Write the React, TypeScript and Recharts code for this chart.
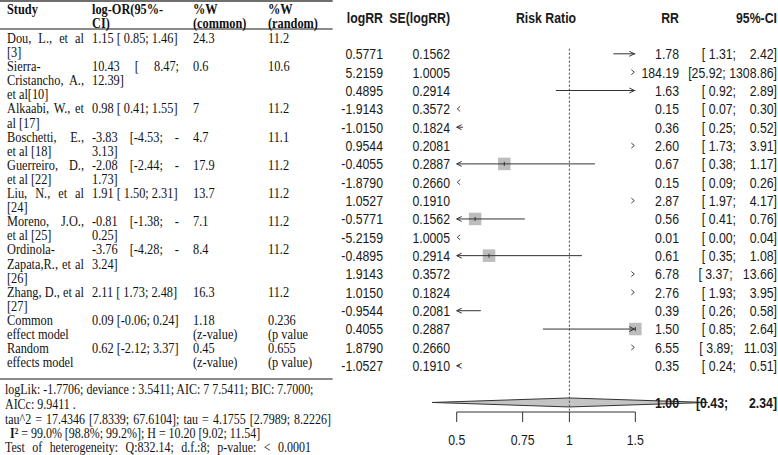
import React from "react";
import { Area, ComposedChart, ReferenceLine, Scatter, XAxis, YAxis } from "recharts";

// ---- forest plot (right) ----
const logRR = [0.5771, 5.2159, 0.4895, -1.9143, -1.015, 0.9544, -0.4055, -1.879, 1.0527, -0.5771, -5.2159, -0.4895, 1.9143, 1.015, -0.9544, 0.4055, 1.879, -1.0527];
const seLogRR = [0.1562, 1.0005, 0.2914, 0.3572, 0.1824, 0.2081, 0.2887, 0.266, 0.191, 0.1562, 1.0005, 0.2914, 0.3572, 0.1824, 0.2081, 0.2887, 0.266, 0.191];
const rr = [1.78, 184.19, 1.63, 0.15, 0.36, 2.6, 0.67, 0.15, 2.87, 0.56, 0.01, 0.61, 6.78, 2.76, 0.39, 1.5, 6.55, 0.35];
const rrLower = [1.31, 25.92, 0.92, 0.07, 0.25, 1.73, 0.38, 0.09, 1.97, 0.41, 0.0, 0.35, 3.37, 1.93, 0.26, 0.85, 3.89, 0.24];
const rrUpper = [2.42, 1308.86, 2.89, 0.3, 0.52, 3.91, 1.17, 0.26, 4.17, 0.76, 0.04, 1.08, 13.66, 3.95, 0.58, 2.64, 11.03, 0.51];
const pooledRR = 1.0;
const pooledLower = 0.43;
const pooledUpper = 2.34;
const rrTicks = [0.5, 0.75, 1, 1.5];

// ---- table (left) ----
const headerCells = [["Study"], ["log-OR(95%-", "CI)"], ["%W", "(common)"], ["%W", "(random)"]];
const studyCells = [
  ["Dou, L., et al", "[3]"],
  ["Sierra-", "Cristancho, A.,", "et al[10]"],
  ["Alkaabi, W., et", "al [17]"],
  ["Boschetti, E.,", "et al [18]"],
  ["Guerreiro, D.,", "et al [22]"],
  ["Liu, N., et al", "[24]"],
  ["Moreno, J.O.,", "et al [25]"],
  ["Ordinola-", "Zapata,R., et al", "[26]"],
  ["Zhang, D., et al", "[27]"],
  ["Common", "effect model"],
  ["Random", "effects model"],
];
const logOrCells = [
  ["1.15 [ 0.85; 1.46]"],
  ["10.43 [ 8.47;", "12.39]"],
  ["0.98 [ 0.41; 1.55]"],
  ["-3.83 [-4.53; -", "3.13]"],
  ["-2.08 [-2.44; -", "1.73]"],
  ["1.91 [ 1.50; 2.31]"],
  ["-0.81 [-1.38; -", "0.25]"],
  ["-3.76 [-4.28; -", "3.24]"],
  ["2.11 [ 1.73; 2.48]"],
  ["0.09 [-0.06; 0.24]"],
  ["0.62 [-2.12; 3.37]"],
];
const weightCommon = [["24.3"], ["0.6"], ["7"], ["4.7"], ["17.9"], ["13.7"], ["7.1"], ["8.4"], ["16.3"], ["1.18", "(z-value)"], ["0.45", "(z-value)"]];
const weightRandom = [["11.2"], ["10.6"], ["11.2"], ["11.1"], ["11.2"], ["11.2"], ["11.2"], ["11.2"], ["11.2"], ["0.236", "(p value"], ["0.655", "(p value)"]];
const statLines = [
  "logLik: -1.7706; deviance : 3.5411; AIC: 7 7.5411; BIC: 7.7000;",
  "AICc: 9.9411 .",
  "tau^2 = 17.4346 [7.8339; 67.6104]; tau = 4.1755 [2.7989; 8.2226]",
  "I² = 99.0% [98.8%; 99.2%]; H = 10.20 [9.02; 11.54]",
  "Test of heterogeneity: Q:832.14; d.f.:8; p-value: < 0.0001",
];

const SANS = '"Liberation Sans", Arial, Helvetica, sans-serif';
const SERIF = '"Liberation Serif", "Times New Roman", serif';
const INK = "#1a1a1a";
const LINE = "#333";
const NX = 0.82; // the plot text is narrow (Arial Narrow look)

const X_DOMAIN = [0.2157, 3.607];
const Y_DOMAIN = [-1.932, 20.52];
const ROW_HEADER = -1;
const ROW_POOLED = 20;
const LIM_LO = rrTicks[0];
const LIM_HI = rrTicks[rrTicks.length - 1];

const rows = logRR.map((_, i) => i + 1);
const diamond = [
  { x: pooledLower, band: [ROW_POOLED, ROW_POOLED] },
  { x: pooledRR, band: [ROW_POOLED - 0.245, ROW_POOLED + 0.245] },
  { x: pooledUpper, band: [ROW_POOLED, ROW_POOLED] },
];
const segments = rows
  .filter((r) => rrUpper[r - 1] > LIM_LO && rrLower[r - 1] < LIM_HI)
  .map((r) => [
    { x: Math.max(rrLower[r - 1], LIM_LO), y: r, arrow: rrLower[r - 1] < LIM_LO ? "left" : "" },
    { x: Math.min(rrUpper[r - 1], LIM_HI), y: r, arrow: rrUpper[r - 1] > LIM_HI ? "right" : "" },
  ]);
const boxes = rows.filter((r) => rr[r - 1] >= LIM_LO && rr[r - 1] <= LIM_HI).map((r) => ({ x: rr[r - 1], y: r }));
const chevrons = rows
  .filter((r) => rrUpper[r - 1] <= LIM_LO || rrLower[r - 1] >= LIM_HI)
  .map((r) => (rrUpper[r - 1] <= LIM_LO ? { x: LIM_LO, y: r, dir: "left" } : { x: LIM_HI, y: r, dir: "right" }));

const fmtCI = (lo: number, hi: number) => `[${lo.toFixed(2).padStart(5)}; ${hi.toFixed(2).padStart(7)}]`;

function NText({ x, y, anchor, bold, dy = "0.36em", children }: any) {
  return (
    <text
      transform={`translate(${x},${y}) scale(${NX},1)`}
      textAnchor={anchor}
      dy={dy}
      fontFamily={SANS}
      fontSize={15}
      fill={INK}
      fontWeight={bold ? "bold" : "normal"}
      xmlSpace="preserve"
      style={{ whiteSpace: "pre" }}
    >
      {children}
    </text>
  );
}

function ArrowTip({ cx, cy, payload }: any) {
  if (payload.arrow === "left")
    return <path d={`M${cx + 5},${cy - 2.5}L${cx},${cy}L${cx + 5},${cy + 2.5}`} stroke={LINE} fill="none" />;
  if (payload.arrow === "right")
    return <path d={`M${cx - 6},${cy - 2.5}L${cx - 1},${cy}L${cx - 6},${cy + 2.5}`} stroke={LINE} fill="none" />;
  return <g />;
}

function Box({ cx, cy }: any) {
  return (
    <g>
      <rect x={cx - 6.25} y={cy - 6.25} width={12.5} height={12.5} fill="#bdbdbd" />
      <line x1={cx} x2={cx} y1={cy - 2} y2={cy + 2} stroke={LINE} />
    </g>
  );
}

function Chevron({ cx, cy, payload }: any) {
  const d =
    payload.dir === "left"
      ? `M${cx + 3.5},${cy - 2.5}L${cx + 0.5},${cy}L${cx + 3.5},${cy + 2.5}`
      : `M${cx - 4},${cy - 2.5}L${cx - 1},${cy}L${cx - 4},${cy + 2.5}`;
  return <path d={d} stroke="#444" fill="none" />;
}

function RowText({ y, payload }: any) {
  const r = payload.value;
  if (r === ROW_HEADER) {
    return (
      <g>
        <NText x={383} y={y} anchor="end" bold>logRR</NText>
        <NText x={450} y={y} anchor="end" bold>SE(logRR)</NText>
        <NText x={546} y={y} anchor="middle" bold>Risk Ratio</NText>
        <NText x={679} y={y} anchor="end" bold>RR</NText>
        <NText x={777} y={y} anchor="end" bold>95%-CI</NText>
      </g>
    );
  }
  if (r === ROW_POOLED) {
    return (
      <g>
        <NText x={679} y={y} anchor="end" bold>{pooledRR.toFixed(2)}</NText>
        <NText x={696} y={y} anchor="start" bold>{`[${pooledLower.toFixed(2)};`}</NText>
        <NText x={777} y={y} anchor="end" bold>{`${pooledUpper.toFixed(2)}]`}</NText>
      </g>
    );
  }
  const i = r - 1;
  return (
    <g>
      <NText x={383} y={y} anchor="end">{logRR[i].toFixed(4)}</NText>
      <NText x={450} y={y} anchor="end">{seLogRR[i].toFixed(4)}</NText>
      <NText x={679} y={y} anchor="end">{rr[i].toFixed(2)}</NText>
      <NText x={777} y={y} anchor="end">{fmtCI(rrLower[i], rrUpper[i])}</NText>
    </g>
  );
}

function AxisTick({ x, y, payload }: any) {
  return (
    <NText x={x} y={y} anchor="middle" dy="0.71em">
      {String(payload.value)}
    </NText>
  );
}

// table layout (visual px, then squeezed horizontally like the source image)
const SX = 0.88;
const COL_X = [7, 92, 193, 268];
const COL_W = [77, 87, 65, 62];
const LINE_H = 14.1;
const FIRST_LINE = 39;
const STAT_Y = [389.5, 404.5, 419.5, 434, 447.5];
const STAT_W = [0, 0, 326, 0, 306];

function Cell({ lines, col, start, bold }: { lines: string[]; col: number; start: number; bold?: boolean }) {
  return (
    <>
      {lines.map((t, k) => {
        const justify = k < lines.length - 1;
        return (
          <div
            key={k}
            style={{
              position: "absolute",
              left: COL_X[col] / SX,
              top: start + k * LINE_H - LINE_H / 2,
              width: COL_W[col] / SX,
              height: LINE_H,
              lineHeight: `${LINE_H}px`,
              textAlign: justify ? "justify" : "left",
              textAlignLast: justify ? "justify" : "auto",
              whiteSpace: "nowrap",
              fontWeight: bold ? "bold" : "normal",
            }}
          >
            {t}
          </div>
        );
      })}
    </>
  );
}

function LeftTable() {
  let line = 0;
  const body = studyCells.map((s, r) => {
    const cells = [s, logOrCells[r], weightCommon[r], weightRandom[r]];
    const start = FIRST_LINE + line * LINE_H;
    line += Math.max(...cells.map((c) => c.length));
    return (
      <React.Fragment key={r}>
        {cells.map((c, col) => (
          <Cell key={col} lines={c} col={col} start={start} />
        ))}
      </React.Fragment>
    );
  });
  return (
    <div
      style={{
        position: "absolute",
        left: 0,
        top: 0,
        width: 333 / SX,
        height: 455,
        transform: `scaleX(${SX})`,
        transformOrigin: "0 0",
        fontFamily: SERIF,
        fontSize: 14,
        color: "#111",
      }}
    >
      <div style={{ position: "absolute", left: 0, top: 0, width: "100%", height: 2, background: "#6f6f6f" }} />
      <div style={{ position: "absolute", left: 0, top: 28, width: "100%", height: 1.5, background: "#8a8a8a" }} />
      <div style={{ position: "absolute", left: 0, top: 378, width: "100%", height: 2, background: "#8a8a8a" }} />
      {headerCells.map((c, col) => (
        <Cell key={col} lines={c} col={col} start={10} bold />
      ))}
      {body}
      {statLines.map((t, k) => {
        const justify = STAT_W[k] > 0;
        return (
          <div
            key={k}
            style={{
              position: "absolute",
              left: (k === 3 ? 10 : 5) / SX,
              top: STAT_Y[k] - 6,
              width: justify ? STAT_W[k] / SX : undefined,
              lineHeight: "12px",
              height: 12,
              fontSize: 13.6,
              whiteSpace: "nowrap",
              textAlign: justify ? "justify" : "left",
              textAlignLast: justify ? "justify" : "auto",
            }}
          >
            {k === 3 ? (
              <>
                <b>I²</b>
                {t.slice(2)}
              </>
            ) : (
              t
            )}
          </div>
        );
      })}
    </div>
  );
}

export default function App() {
  return (
    <div style={{ position: "absolute", left: 0, top: 0, width: 778, height: 455, background: "#fff", overflow: "hidden" }}>
      <div style={{ position: "absolute", left: 0, top: 0 }}>
        <ComposedChart width={778} height={455} data={diamond} margin={{ top: 0, right: 0, left: 319, bottom: 0 }}>
          <XAxis
            type="number"
            dataKey="x"
            scale="log"
            domain={X_DOMAIN}
            allowDataOverflow
            ticks={rrTicks}
            interval={0}
            axisLine={false}
            tickLine={{ stroke: LINE }}
            tickSize={10}
            tickMargin={12}
            height={43}
            tick={(p: any) => <AxisTick {...p} />}
          />
          <YAxis
            type="number"
            dataKey="y"
            domain={Y_DOMAIN}
            allowDataOverflow
            reversed
            width={1}
            axisLine={false}
            tickLine={false}
            ticks={[ROW_HEADER, ...rows, ROW_POOLED]}
            interval={0}
            tick={(p: any) => <RowText {...p} />}
          />
          <ReferenceLine
            segment={[
              { x: 1, y: 0.72 },
              { x: 1, y: Y_DOMAIN[1] },
            ]}
            stroke="#444"
            strokeDasharray="2 2"
            ifOverflow="visible"
          />
          <ReferenceLine
            segment={[
              { x: LIM_LO, y: Y_DOMAIN[1] },
              { x: LIM_HI, y: Y_DOMAIN[1] },
            ]}
            stroke={LINE}
            ifOverflow="visible"
          />
          <Scatter data={boxes} shape={Box} isAnimationActive={false} />
          {segments.map((seg, k) => (
            <Scatter
              key={k}
              data={seg}
              line={{ stroke: LINE, strokeWidth: 1 }}
              lineType="joint"
              shape={ArrowTip}
              isAnimationActive={false}
            />
          ))}
          <Scatter data={chevrons} shape={Chevron} isAnimationActive={false} />
          <Area
            type="linear"
            dataKey="band"
            stroke={LINE}
            strokeWidth={1}
            fill="#c4c4c4"
            fillOpacity={1}
            dot={false}
            activeDot={false}
            isAnimationActive={false}
          />
        </ComposedChart>
      </div>
      <LeftTable />
    </div>
  );
}
